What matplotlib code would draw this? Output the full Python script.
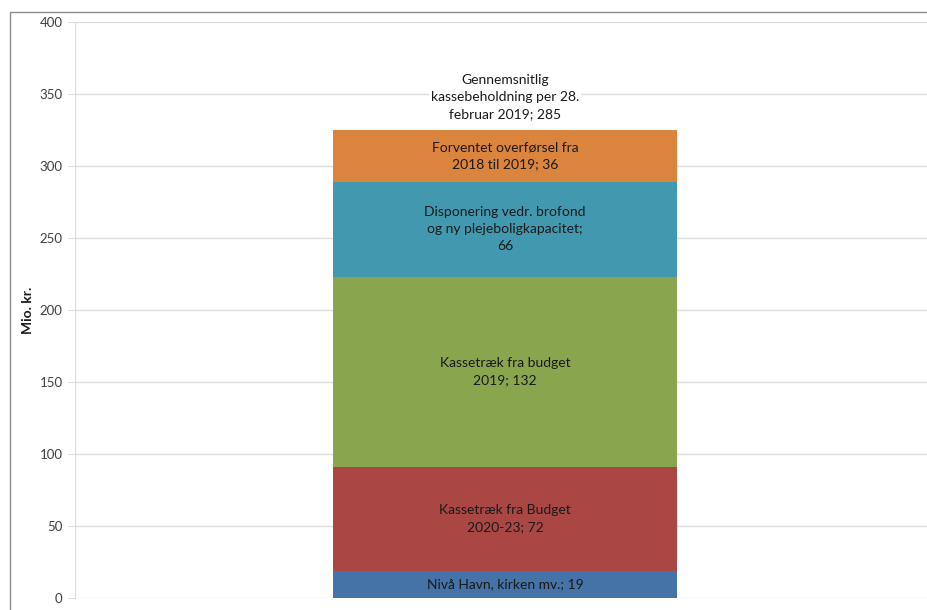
import matplotlib.pyplot as plt
from matplotlib.patches import Rectangle

plt.rcParams['font.family'] = ['Lato', 'DejaVu Sans']

# --- Data ---
segments = [
    'Nivå Havn, kirken mv.',
    'Kassetræk fra Budget\n2020-23',
    'Kassetræk fra budget\n2019',
    'Disponering vedr. brofond\nog ny plejeboligkapacitet;\n',
    'Forventet overførsel fra\n2018 til 2019',
]
values = [19, 72, 132, 66, 36]
colors = ['#4572A7', '#AA4643', '#89A54E', '#4198AF', '#DB843D']
avg_label = 'Gennemsnitlig\nkassebeholdning per 28.\nfebruar 2019'
avg_value = 285
yticks = [0, 50, 100, 150, 200, 250, 300, 350, 400]

fig = plt.figure(figsize=(9.27, 6.10), dpi=100)

# outer chart frame (only top/left visible in the crop)
fig.patches.append(Rectangle((10 / 927, -0.1), 1.2, (610 - 12) / 610 + 0.1,
                             transform=fig.transFigure, fill=False,
                             edgecolor='#8c8c8c', linewidth=1.0))

ax = fig.add_axes([75 / 927, 12 / 610, 860 / 927, 576 / 610])

bottom = 0
for lab, val, col in zip(segments, values, colors):
    ax.bar(0.5, val, width=0.4, bottom=bottom, color=col, zorder=2)
    if lab.endswith(';\n'):
        txt = f'{lab}{val}'
    else:
        txt = f'{lab}; {val}'
    ax.text(0.5, bottom + val / 2, txt, ha='center', va='center',
            fontsize=10, color='#1a1a1a', linespacing=1.5, zorder=3)
    bottom += val

ax.text(0.5, bottom + 23, f'{avg_label}; {avg_value}', ha='center', va='center',
        fontsize=10, color='#1a1a1a', linespacing=1.5, zorder=3,
        bbox=dict(facecolor='white', edgecolor='none', pad=1))

ax.set_xlim(0, 1)
ax.set_ylim(0, 400)
ax.set_yticks(yticks)
ax.set_xticks([])
ax.yaxis.grid(True, color='#dcdcdc', linewidth=1.0, zorder=0)
ax.set_axisbelow(True)
for s in ['top', 'right', 'bottom']:
    ax.spines[s].set_visible(False)
ax.spines['left'].set_color('#dcdcdc')
ax.tick_params(axis='y', length=5, color='#dcdcdc', labelsize=9.5,
               labelcolor='#404040', pad=4)
ax.set_ylabel('Mio. kr.', fontsize=10, fontweight='bold', color='#1a1a1a',
              labelpad=4)

fig.savefig('out.png', dpi=100)
